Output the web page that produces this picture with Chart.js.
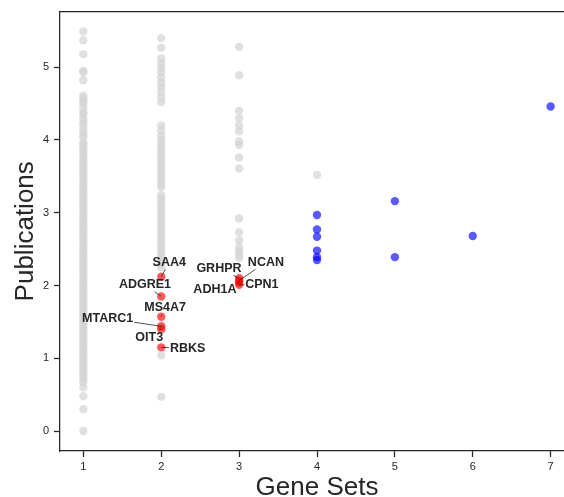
<!DOCTYPE html>
<html>
<head>
<meta charset="utf-8">
<script src="https://cdn.jsdelivr.net/npm/chart.js@4.4.0/dist/chart.umd.min.js"></script>
<style>
  html, body { margin: 0; padding: 0; overflow: hidden; background: #fff; }
</style>
</head>
<body>
<canvas id="myChart" width="580" height="497"></canvas>
<script>
// Gray background genes, one array per gene-set count
const grayAt1 = [
  5.49, 5.37, 5.18, 4.95, 4.93, 4.82, 4.61, 4.57, 4.54, 4.50, 4.44, 4.38, 4.35,
  4.29, 4.24, 4.20, 4.13, 4.09, 4.04, 3.97, 3.93, 3.89, 3.85, 3.80, 3.76, 3.72,
  3.68, 3.64, 3.60, 3.56, 3.52, 3.48, 3.44, 3.40, 3.36, 3.32, 3.28, 3.24, 3.20,
  3.16, 3.12, 3.08, 3.04, 3.00, 2.96, 2.92, 2.88, 2.84, 2.80, 2.76, 2.72, 2.68,
  2.64, 2.60, 2.56, 2.52, 2.48, 2.44, 2.40, 2.36, 2.32, 2.28, 2.24, 2.20, 2.16,
  2.12, 2.08, 2.04, 2.00, 1.96, 1.92, 1.88, 1.84, 1.80, 1.76, 1.72, 1.68, 1.64,
  1.60, 1.56, 1.52, 1.48, 1.44, 1.40, 1.36, 1.32, 1.28, 1.24, 1.20, 1.16, 1.12,
  1.08, 1.04, 1.00, 0.96, 0.92, 0.88, 0.84, 0.80, 0.76, 0.72, 0.67, 0.60, 0.48,
  0.30, 0.00,
];
const grayAt2 = [
  5.40, 5.27, 5.12, 5.05, 4.99, 4.93, 4.86, 4.79, 4.73, 4.66, 4.59, 4.52, 4.20,
  4.13, 4.06, 4.00, 3.95, 3.90, 3.85, 3.80, 3.75, 3.70, 3.65, 3.60, 3.55, 3.50,
  3.45, 3.40, 3.35, 3.24, 3.19, 3.14, 3.09, 3.04, 2.99, 2.94, 2.89, 2.84, 2.79,
  2.74, 2.69, 2.64, 2.59, 2.54, 2.49, 2.44, 2.39, 2.34, 2.29, 2.25, 1.04, 0.47,
];
const grayAt3 = [
  5.28, 4.89, 4.40, 4.30, 4.20, 4.12, 3.98, 3.93, 3.76, 3.61, 2.92, 2.73, 2.62,
  2.53, 2.47, 2.42, 2.38,
];
const grayAt4 = [3.52];

// Blue highlighted genes
const blueSets = [4, 4, 4, 4, 4, 4, 5, 5, 6, 7];
const bluePubs = [2.97, 2.77, 2.67, 2.48, 2.39, 2.35, 3.16, 2.39, 2.68, 4.46];

// Red labelled genes
const hitGenes = ["SAA4", "ADGRE1", "MS4A7", "MTARC1", "OIT3", "RBKS", "GRHPR", "NCAN", "ADH1A", "CPN1"];
const hitSets = [2, 2, 2, 2, 2, 2, 3, 3, 3, 3];
const hitPubs = [2.12, 1.85, 1.57, 1.44, 1.40, 1.15, 2.10, 2.07, 2.04, 2.01];
// where the text labels sit (data units)
const labelSets = [2.103, 1.791, 2.051, 1.312, 1.846, 2.339, 2.741, 3.344, 2.689, 3.292];
const labelPubs = [2.317, 2.011, 1.695, 1.548, 1.287, 1.136, 2.235, 2.317, 1.940, 2.008];

const xTicks = [1, 2, 3, 4, 5, 6, 7];
const yTicks = [0, 1, 2, 3, 4, 5];

const ink = "#262626";
const fontFamily = '"Liberation Sans", Arial, sans-serif';

const toPoints = (xs, ys) => ys.map((v, i) => ({ x: Array.isArray(xs) ? xs[i] : xs, y: v }));
const grayPoints = [].concat(
  toPoints(1, grayAt1),
  toPoints(2, grayAt2),
  toPoints(3, grayAt3),
  toPoints(4, grayAt4)
);

const framePlugin = {
  id: "frame",
  afterDraw(chart) {
    const { ctx, chartArea } = chart;
    ctx.save();
    // top spine
    ctx.strokeStyle = ink;
    ctx.lineWidth = 1.25;
    ctx.beginPath();
    ctx.moveTo(chartArea.left, chartArea.top);
    ctx.lineTo(chartArea.right, chartArea.top);
    ctx.stroke();
    // axis titles
    ctx.fillStyle = ink;
    ctx.font = "26px " + fontFamily;
    ctx.textAlign = "center";
    ctx.textBaseline = "alphabetic";
    ctx.fillText("Gene Sets", (chartArea.left + chartArea.right) / 2, 495);
    ctx.translate(33, (chartArea.top + chartArea.bottom) / 2);
    ctx.rotate(-Math.PI / 2);
    ctx.fillText("Publications", 0, 0);
    ctx.restore();
  },
};

const labelPlugin = {
  id: "geneLabels",
  afterDatasetsDraw(chart) {
    const { ctx } = chart;
    const xs = chart.scales.x;
    const ys = chart.scales.y;
    ctx.save();
    ctx.font = "bold 12.5px " + fontFamily;
    ctx.textAlign = "center";
    ctx.textBaseline = "middle";
    hitGenes.forEach((name, i) => {
      const px = xs.getPixelForValue(hitSets[i]);
      const py = ys.getPixelForValue(hitPubs[i]);
      const lx = xs.getPixelForValue(labelSets[i]);
      const ly = ys.getPixelForValue(labelPubs[i]);
      const hw = ctx.measureText(name).width / 2 + 1;
      const hh = 7;
      const dx = px - lx;
      const dy = py - ly;
      const t = Math.min(dx ? hw / Math.abs(dx) : Infinity, dy ? hh / Math.abs(dy) : Infinity);
      if (t < 1) {
        ctx.strokeStyle = ink;
        ctx.lineWidth = 0.8;
        ctx.beginPath();
        ctx.moveTo(lx + dx * t, ly + dy * t);
        ctx.lineTo(px, py);
        ctx.stroke();
      }
      ctx.fillStyle = ink;
      ctx.fillText(name, lx, ly);
    });
    ctx.restore();
  },
};

const axisStyle = {
  border: { display: true, color: ink, width: 1.25 },
  grid: {
    display: true,
    drawOnChartArea: false,
    drawTicks: true,
    tickLength: 6,
    tickColor: ink,
    tickWidth: 1.25,
  },
};

var ctx = document.getElementById("myChart");
var myChart = new Chart(ctx, {
  type: "scatter",
  data: {
    datasets: [
      {
        label: "other",
        data: grayPoints,
        backgroundColor: "rgba(211, 211, 211, 0.7)",
        borderWidth: 0,
        pointRadius: 4.2,
      },
      {
        label: "high",
        data: toPoints(blueSets, bluePubs),
        backgroundColor: "rgba(0, 0, 255, 0.65)",
        borderWidth: 0,
        pointRadius: 4.2,
      },
      {
        label: "hits",
        data: toPoints(hitSets, hitPubs),
        backgroundColor: "rgba(255, 0, 0, 0.65)",
        borderWidth: 0,
        pointRadius: 4.2,
      },
    ],
  },
  options: {
    responsive: false,
    animation: false,
    devicePixelRatio: 1,
    events: [],
    layout: { padding: { top: 11, right: 6, left: 0, bottom: 0 } },
    plugins: {
      legend: { display: false },
      tooltip: { enabled: false },
    },
    scales: {
      x: {
        type: "linear",
        min: 0.7,
        max: 7.3,
        ...axisStyle,
        afterBuildTicks: (scale) => {
          scale.ticks = xTicks.map((v) => ({ value: v }));
        },
        afterFit: (scale) => {
          scale.height = 46;
        },
        ticks: {
          color: ink,
          padding: 3,
          font: { family: fontFamily, size: 11 },
          callback: (value) => value,
        },
      },
      y: {
        type: "linear",
        min: -0.2745,
        max: 5.7645,
        ...axisStyle,
        afterBuildTicks: (scale) => {
          scale.ticks = yTicks.map((v) => ({ value: v }));
        },
        afterFit: (scale) => {
          scale.width = 60;
        },
        ticks: {
          color: ink,
          padding: 5,
          font: { family: fontFamily, size: 11 },
          callback: (value) => value,
        },
      },
    },
  },
  plugins: [framePlugin, labelPlugin],
});
</script>
</body>
</html>
